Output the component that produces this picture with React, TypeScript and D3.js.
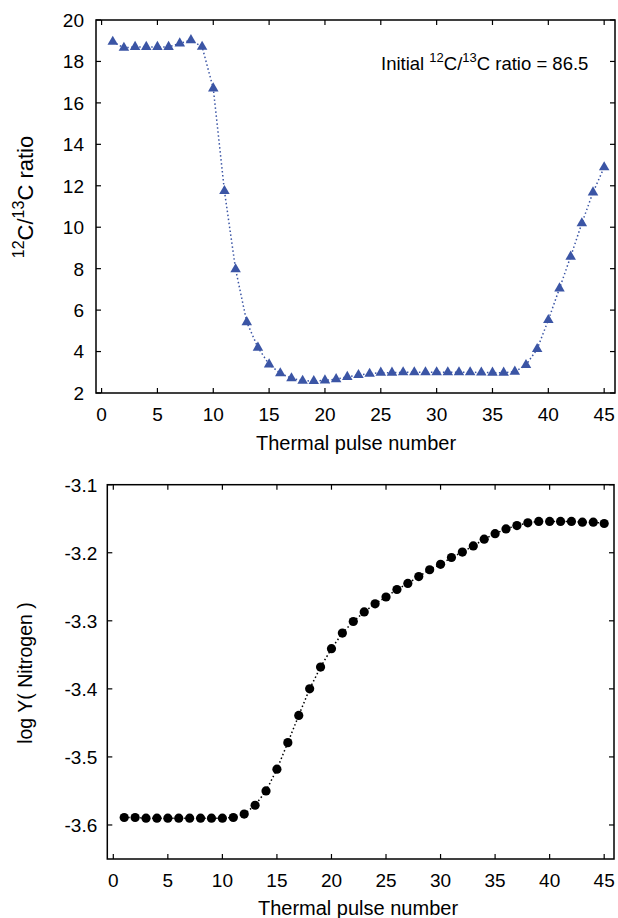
import React from "react";
import * as d3 from "d3";

const pulses = d3.range(1, 46);
const ratioValues = [
  18.95, 18.66, 18.7, 18.7, 18.7, 18.7, 18.87, 19.03, 18.71, 16.7,
  11.75, 7.97, 5.42, 4.19, 3.38, 2.95, 2.71, 2.59, 2.58, 2.61,
  2.67, 2.78, 2.87, 2.93, 2.98, 2.98, 3.0, 3.0, 3.0, 3.0,
  3.0, 3.0, 3.0, 2.99, 2.98, 2.98, 3.03, 3.35, 4.12, 5.52,
  7.05, 8.58, 10.19, 11.68, 12.89,
];
const nitrogenValues = [
  -3.589, -3.589, -3.59, -3.59, -3.59, -3.59, -3.59, -3.59, -3.59, -3.59,
  -3.589, -3.584, -3.571, -3.55, -3.518, -3.479, -3.439, -3.4, -3.368, -3.341,
  -3.318, -3.301, -3.287, -3.275, -3.265, -3.254, -3.245, -3.235, -3.225, -3.217,
  -3.207, -3.199, -3.19, -3.18, -3.172, -3.165, -3.16, -3.156, -3.154, -3.154,
  -3.154, -3.154, -3.155, -3.155, -3.157,
];
const xTicks = [0, 5, 10, 15, 20, 25, 30, 35, 40, 45];
const ratioTicks = [2, 4, 6, 8, 10, 12, 14, 16, 18, 20];
const nitrogenTicks = [-3.6, -3.5, -3.4, -3.3, -3.2, -3.1];

const FONT = "'Liberation Sans', Arial, Helvetica, sans-serif";
const BLUE = "#3b55a5";

function Frame({ x, y, xTicksVals, yTicksVals, yFmt, yLabelGap }: any) {
  const [x0, x1] = x.range();
  const [y0, y1] = y.range(); // y0 bottom, y1 top
  const tl = 5;
  return (
    <g>
      <rect x={x0} y={y1} width={x1 - x0} height={y0 - y1} fill="none" stroke="#000" strokeWidth={1.5} />
      {xTicksVals.map((t: number) => (
        <g key={"x" + t}>
          <line x1={x(t)} x2={x(t)} y1={y0} y2={y0 - tl} stroke="#000" strokeWidth={1.2} />
          <line x1={x(t)} x2={x(t)} y1={y1} y2={y1 + tl} stroke="#000" strokeWidth={1.2} />
          <text x={x(t)} y={y0 + 28} textAnchor="middle" fontSize={19} fontFamily={FONT}>{t}</text>
        </g>
      ))}
      {yTicksVals.map((t: number) => (
        <g key={"y" + t}>
          <line x1={x0} x2={x0 + tl} y1={y(t)} y2={y(t)} stroke="#000" strokeWidth={1.2} />
          <line x1={x1} x2={x1 - tl} y1={y(t)} y2={y(t)} stroke="#000" strokeWidth={1.2} />
          <text x={x0 - yLabelGap} y={y(t)} dy="0.36em" textAnchor="end" fontSize={19} fontFamily={FONT}>{yFmt(t)}</text>
        </g>
      ))}
    </g>
  );
}

export default function App() {
  // top chart
  const xTop = d3.scaleLinear().domain([-0.5, 45.97]).range([96, 615]);
  const yTop = d3.scaleLinear().domain([2, 20]).range([393, 20]);
  // bottom chart
  const xBot = d3.scaleLinear().domain([-0.55, 45.9]).range([107.3, 614]);
  const yBot = d3.scaleLinear().domain([-3.65, -3.1]).range([859, 484.7]);

  const topLine = d3.line<number>().x((_, i) => xTop(pulses[i])).y((d) => yTop(d));
  const botLine = d3.line<number>().x((_, i) => xBot(pulses[i])).y((d) => yBot(d));
  const tri = d3.symbol().type(d3.symbolTriangle).size(48)();

  return (
    <svg width={618} height={918} style={{ position: "absolute", left: 0, top: 0, background: "#fff" }} fontFamily={FONT}>
      <rect width={618} height={918} fill="#fff" />
      {/* Top panel */}
      <path d={topLine(ratioValues) || ""} fill="none" stroke={BLUE} strokeWidth={1.5} strokeDasharray="1.5 2.5" />
      {ratioValues.map((v, i) => (
        <path key={i} d={tri || ""} transform={`translate(${xTop(pulses[i])},${yTop(v)})`} fill={BLUE} />
      ))}
      <Frame x={xTop} y={yTop} xTicksVals={xTicks} yTicksVals={ratioTicks} yFmt={(t: number) => String(t)} yLabelGap={12} />
      <text x={381} y={70} fontSize={18.5} fontFamily={FONT}>
        Initial <tspan fontSize={13} dy={-8}>12</tspan><tspan dy={8}>C/</tspan><tspan fontSize={13} dy={-8}>13</tspan><tspan dy={8}>C ratio = 86.5</tspan>
      </text>
      <text transform="translate(33,197) rotate(-90)" textAnchor="middle" fontSize={22} fontFamily={FONT}>
        <tspan fontSize={16} dy={-9}>12</tspan><tspan dy={9}>C/</tspan><tspan fontSize={16} dy={-9}>13</tspan><tspan dy={9}>C ratio</tspan>
      </text>
      <text x={356} y={450} textAnchor="middle" fontSize={20} fontFamily={FONT}>Thermal pulse number</text>

      {/* Bottom panel */}
      <path d={botLine(nitrogenValues) || ""} fill="none" stroke="#000" strokeWidth={1.5} strokeDasharray="1.5 2.5" />
      {nitrogenValues.map((v, i) => (
        <circle key={i} cx={xBot(pulses[i])} cy={yBot(v)} r={4.6} fill="#000" />
      ))}
      <Frame x={xBot} y={yBot} xTicksVals={xTicks} yTicksVals={nitrogenTicks} yFmt={(t: number) => t.toFixed(1)} yLabelGap={10} />
      <text transform="translate(32,673) rotate(-90)" textAnchor="middle" fontSize={19.5} fontFamily={FONT}>log Y( Nitrogen )</text>
      <text x={358} y={915} textAnchor="middle" fontSize={20} fontFamily={FONT}>Thermal pulse number</text>
    </svg>
  );
}
